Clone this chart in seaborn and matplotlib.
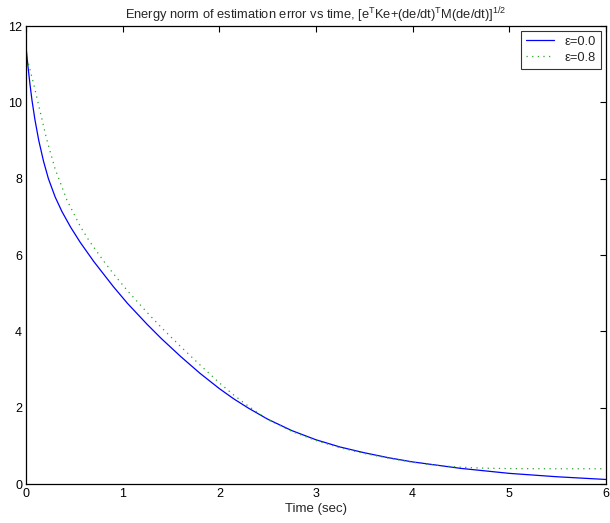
import matplotlib
matplotlib.use("Agg")
import matplotlib.pyplot as plt
import seaborn as sns
import pandas as pd

t_blue = [0, 0.02, 0.04, 0.06, 0.09, 0.13, 0.18, 0.23, 0.3, 0.37, 0.46, 0.56, 0.7, 0.9, 1.05, 1.25, 1.4, 1.6, 1.8, 2.0, 2.15, 2.3, 2.5, 2.75, 3.0, 3.25, 3.5, 3.75, 4.0, 4.5, 5.0, 5.5, 6.0]
e_blue = [11.4, 10.9, 10.45, 10.05, 9.55, 9.0, 8.45, 8.0, 7.52, 7.14, 6.73, 6.33, 5.83, 5.18, 4.73, 4.19, 3.81, 3.34, 2.9, 2.5, 2.23, 1.99, 1.7, 1.4, 1.16, 0.97, 0.82, 0.69, 0.58, 0.41, 0.28, 0.19, 0.12]

t_green = [0, 0.02, 0.05, 0.08, 0.145, 0.21, 0.3, 0.42, 0.56, 0.65, 0.8, 0.9, 1.05, 1.25, 1.4, 1.6, 1.8, 2.0, 2.15, 2.3, 2.5, 2.75, 3.0, 3.25, 3.5, 3.75, 4.0, 4.25, 4.5, 4.75, 5.0, 5.5, 6.0]
e_green = [11.15, 11.05, 10.75, 10.45, 9.75, 9.05, 8.25, 7.45, 6.75, 6.38, 5.85, 5.52, 5.06, 4.5, 4.1, 3.6, 3.12, 2.65, 2.33, 2.04, 1.69, 1.38, 1.14, 0.95, 0.8, 0.68, 0.57, 0.49, 0.44, 0.415, 0.405, 0.4, 0.4]

labels = ["\u03b5=0.0", "\u03b5=0.8"]
x_ticks = [0, 1, 2, 3, 4, 5, 6]
y_ticks = [0, 2, 4, 6, 8, 10, 12]

sns.set_theme(style="white")
plt.rcParams['font.family'] = ['Liberation Sans', 'DejaVu Sans']
plt.rcParams['mathtext.fontset'] = 'custom'
plt.rcParams['mathtext.rm'] = 'Liberation Sans'

df = pd.concat([
    pd.DataFrame({"t": t_blue, "e": e_blue, "s": labels[0]}),
    pd.DataFrame({"t": t_green, "e": e_green, "s": labels[1]}),
])

fig = plt.figure(figsize=(6.1, 5.23), dpi=100)
ax = fig.add_axes([0.043, 0.0745, 0.950, 0.8755])
sns.lineplot(data=df, x="t", y="e", hue="s", style="s",
             palette={labels[0]: (0, 0, 1), labels[1]: (0.15, 0.65, 0.15)},
             dashes={labels[0]: "", labels[1]: (1, 3.5)},
             linewidth=0.9, ax=ax, sort=False, estimator=None)

ax.set_xlim(0, 6)
ax.set_ylim(0, 12)
ax.set_xticks(x_ticks)
ax.set_yticks(y_ticks)
ax.tick_params(direction="in", top=True, right=True, length=4, width=0.8, labelsize=9, pad=3, colors="black")
for sp in ax.spines.values():
    sp.set_visible(True)
    sp.set_color("black")
    sp.set_linewidth(0.9)
ax.set_xlabel("Time (sec)", fontsize=9.5, labelpad=2)
ax.set_ylabel("")
ax.set_title(r"Energy norm of estimation error vs time, [e$^\mathregular{T}$Ke+(de/dt)$^\mathregular{T}$M(de/dt)]$^\mathregular{1/2}$",
             fontsize=9.3, pad=5)
leg = ax.legend(loc="upper right", fontsize=9.3, frameon=True, fancybox=False,
                edgecolor="black", handlelength=2.2, borderpad=0.4, labelspacing=0.3,
                borderaxespad=0.35)
leg.get_frame().set_linewidth(0.8)
fig.savefig("out.png", dpi=100)
